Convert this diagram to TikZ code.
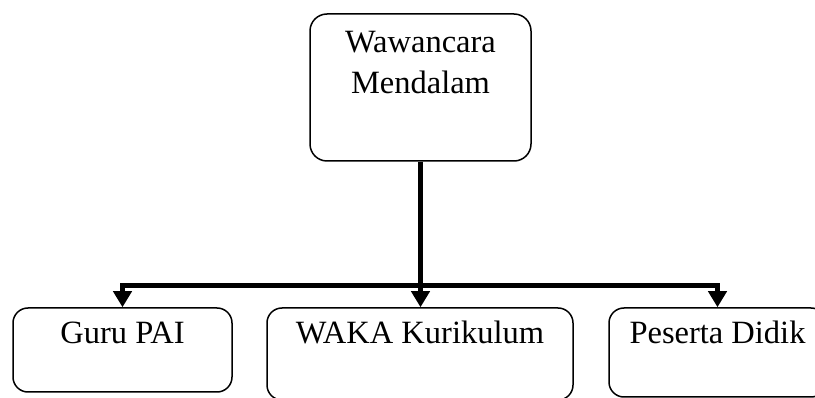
\documentclass[tikz,border=0pt]{standalone}
\usepackage{fontspec}
\setmainfont{Liberation Serif}
\usetikzlibrary{arrows.meta}
\tikzset{
  box/.style={draw=black, line width=1.5pt, rounded corners=15pt, inner sep=0pt, fill=white},
  lbl/.style={anchor=base, inner sep=0pt, font=\fontsize{32.5}{39}\selectfont},
  conn/.style={line width=5.5pt, draw=black, line join=miter},
  arr/.style={conn, -{Triangle[width=18pt,length=16pt]}}
}
\begin{document}
\begin{tikzpicture}[x=1pt,y=-1pt]
\useasboundingbox (0,0) rectangle (815,398);
\clip (0,0) rectangle (815,398);
\fill[white] (0,0) rectangle (815,398);
% boxes
\node[box, rounded corners=17pt, minimum width=221pt, minimum height=147pt] (top) at (420.5,87.5) {};
\node[box, minimum width=219pt, minimum height=84pt] (guru) at (122.5,350) {};
\node[box, minimum width=306pt, minimum height=92pt] (waka) at (420,354) {};
\node[box, minimum width=217pt, minimum height=89pt] (peserta) at (717.5,352.5) {};
% texts
\node[lbl] (t1) at (420.5,53) {Wawancara};
\node[lbl] (t2) at (420.5,94) {Mendalam};
\node[lbl] (t3) at (122.5,344) {Guru PAI};
\node[lbl] (t4) at (420,344) {WAKA Kurikulum};
\node[lbl] (t5) at (717.5,344) {Peserta Didik};
% connectors
\coordinate (hub) at (420.5,285.5);
\draw[conn] (top.south) -- (hub);
\draw[arr] (hub) -| (guru.north);
\draw[arr] (hub) -| (peserta.north);
\draw[arr] (hub) -- (hub |- waka.north);
\end{tikzpicture}
\end{document}
